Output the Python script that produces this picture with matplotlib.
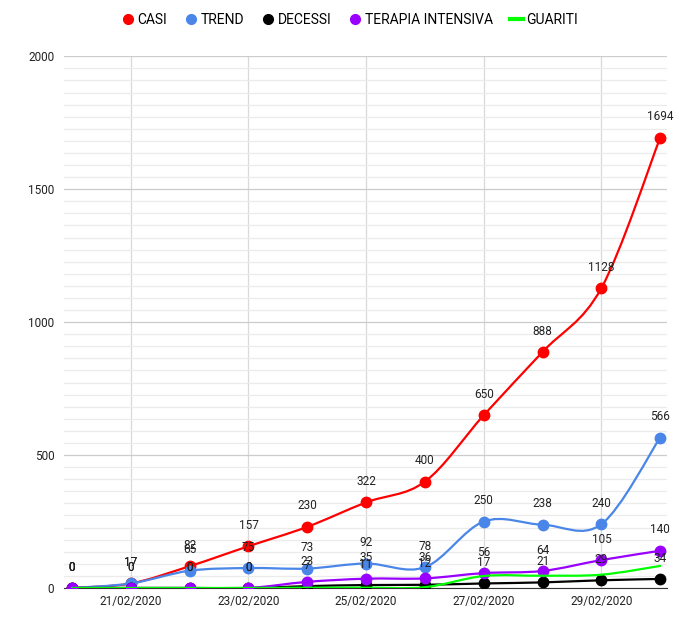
import numpy as np
import matplotlib.pyplot as plt
from matplotlib.path import Path
from matplotlib.patches import PathPatch
from matplotlib.lines import Line2D

plt.rcParams['font.family'] = ['Roboto', 'DejaVu Sans']

date = ['20/02/2020', '21/02/2020', '22/02/2020', '23/02/2020', '24/02/2020', '25/02/2020',
        '26/02/2020', '27/02/2020', '28/02/2020', '29/02/2020', '01/03/2020']
casi = [0, 17, 82, 157, 230, 322, 400, 650, 888, 1128, 1694]
trend = [0, 17, 65, 75, 73, 92, 78, 250, 238, 240, 566]
decessi = [0, 0, 0, 0, 7, 11, 12, 17, 21, 29, 34]
terapia = [0, 0, 0, 0, 23, 35, 36, 56, 64, 105, 140]
guariti = [0, 0, 0, 0, 1, 1, 3, 45, 46, 50, 83]


def smooth_path(x, y):
    # catmull-rom style bezier through the points
    x = np.asarray(x, float)
    y = np.asarray(y, float)
    verts = [(x[0], y[0])]
    codes = [Path.MOVETO]
    n = len(x)
    for i in range(n - 1):
        p0 = max(i - 1, 0)
        p3 = min(i + 2, n - 1)
        c1 = (x[i] + (x[i + 1] - x[p0]) / 6, y[i] + (y[i + 1] - y[p0]) / 6)
        c2 = (x[i + 1] - (x[p3] - x[i]) / 6, y[i + 1] - (y[p3] - y[i]) / 6)
        verts += [c1, c2, (x[i + 1], y[i + 1])]
        codes += [Path.CURVE4] * 3
    return Path(verts, codes)


fig = plt.figure(figsize=(6.99, 6.3), dpi=100)
ax = fig.add_axes([0.0916, 0.0667, 0.863, 0.844])

xs = np.arange(len(date))
series = [
    ('CASI', casi, '#ff0000', True),
    ('TREND', trend, '#4a86e8', True),
    ('DECESSI', decessi, '#000000', True),
    ('TERAPIA INTENSIVA', terapia, '#9900ff', True),
    ('GUARITI', guariti, '#00ff00', False),
]

handles = []
for k, (name, vals, col, mark) in enumerate(series):
    ax.add_patch(PathPatch(smooth_path(xs, vals), fill=False, edgecolor=col,
                           lw=1.6, zorder=3 + k, capstyle='round'))
    if mark:
        ax.plot(xs, vals, 'o', color=col, ms=7.5, zorder=3 + k, mec=col)
        for xv, yv in zip(xs, vals):
            ax.annotate(str(yv), (xv, yv), xytext=(0, 15), textcoords='offset points',
                        ha='center', va='center', fontsize=8.5, color='#222222', zorder=10)
        handles.append(Line2D([], [], marker='o', ls='none', color=col, ms=7, label=name))
    else:
        handles.append(Line2D([], [], color=col, lw=3, label=name))

ax.set_xlim(-0.136, 10.12)
ax.set_ylim(0, 2000)

ax.set_yticks([0, 500, 1000, 1500, 2000])
minor = []
for a in range(0, 2000, 500):
    minor += list(np.linspace(a, a + 500, 12)[1:-1])
ax.set_yticks(minor, minor=True)
ax.set_xticks(xs[1::2])
ax.set_xticklabels(date[1::2])

ax.grid(axis='y', which='major', color='#cccccc', lw=0.9, zorder=0)
ax.grid(axis='y', which='minor', color='#ebebeb', lw=0.9, zorder=0)
ax.grid(axis='x', which='major', color='#d9d9d9', lw=0.9, zorder=0)
ax.set_axisbelow(True)

for s in ['top', 'right', 'left']:
    ax.spines[s].set_visible(False)
ax.spines['bottom'].set_color('#333333')
ax.spines['bottom'].set_linewidth(0.8)
ax.tick_params(axis='both', which='both', length=0, labelsize=8.5, colors='#222222')
ax.tick_params(axis='y', pad=7)
ax.tick_params(axis='x', pad=5)

fig.legend(handles=handles, loc='upper center', bbox_to_anchor=(0.5, 1.0), ncol=5,
           frameon=False, fontsize=10, handletextpad=0.2, columnspacing=1.2,
           handlelength=1.0, borderaxespad=0.5)

fig.savefig('out.png', dpi=100)
